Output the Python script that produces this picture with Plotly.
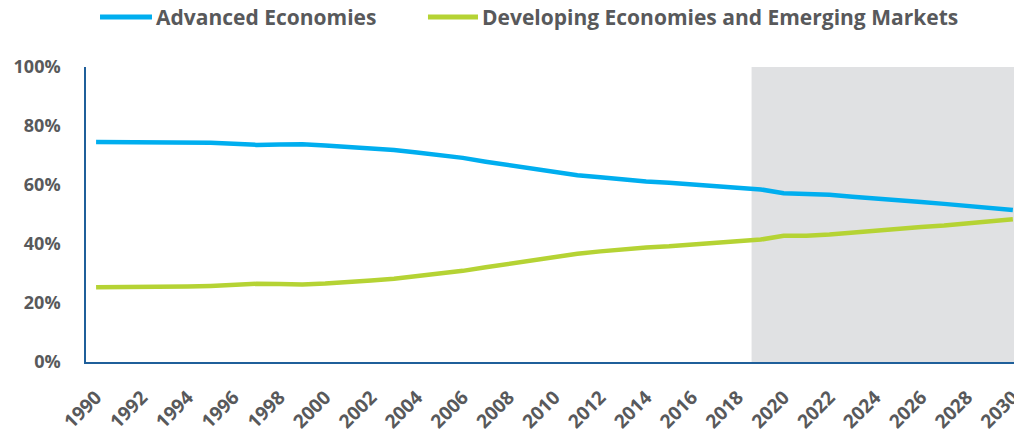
import plotly.graph_objects as go

years = list(range(1990, 2031))
advanced = [74.6, 74.6, 74.6, 74.4, 74.4, 74.3, 74.0, 73.6, 73.7, 73.8,
            73.4, 73.0, 72.5, 71.9, 71.0, 70.1, 69.2, 67.9, 66.7, 65.4,
            64.3, 63.3, 62.6, 61.8, 61.2, 60.8, 60.3, 59.7, 59.1, 58.5,
            57.2, 57.1, 56.7, 56.0, 55.3, 54.8, 54.2, 53.6, 53.0, 52.3, 51.5]
developing = [25.3, 25.3, 25.3, 25.6, 25.6, 25.8, 26.2, 26.5, 26.4, 26.3,
              26.6, 27.0, 27.6, 28.2, 29.0, 29.9, 30.9, 32.1, 33.3, 34.6,
              35.7, 36.7, 37.5, 38.3, 38.8, 39.2, 39.8, 40.3, 40.9, 41.5,
              42.8, 42.8, 43.2, 43.9, 44.6, 45.1, 45.8, 46.3, 46.9, 47.6, 48.4]
series_names = ["Advanced Economies", "Developing Economies and Emerging Markets"]
series_colors = ["#00AEEF", "#B5D334"]
projection_start = 2018.6
y_ticks = [0, 20, 40, 60, 80, 100]
y_tick_labels = [f"{v}%" for v in y_ticks]
x_ticks = list(range(1990, 2031, 2))
x_tick_labels = [str(v) for v in x_ticks]

FONT = "Open Sans"
GRAY = "#58595B"

fig = go.Figure()
for vals, name, color in zip([advanced, developing], series_names, series_colors):
    fig.add_trace(go.Scatter(x=years, y=vals, mode="lines", name=name,
                             line=dict(color=color, width=4.5), showlegend=False))

fig.add_shape(type="rect", xref="x", yref="paper", x0=projection_start, x1=2030.05,
              y0=0, y1=1, fillcolor="#E0E1E3", line=dict(width=0), layer="below")

# Manual legend (line swatches + labels) above the plot
legend_y = 1.1695
legend_swatches = [(0.0151, 0.0711, 0.0730), (0.3685, 0.4224, 0.4250)]
for (sx0, sx1, tx), name, color in zip(legend_swatches, series_names, series_colors):
    fig.add_shape(type="line", xref="paper", yref="paper", x0=sx0, x1=sx1,
                  y0=legend_y, y1=legend_y, line=dict(color=color, width=5))
    fig.add_annotation(xref="paper", yref="paper", x=tx, y=legend_y, text=name,
                       showarrow=False, xanchor="left", yanchor="middle",
                       font=dict(size=21, color=GRAY, family=FONT, weight="bold"))

fig.update_layout(
    width=1014, height=436,
    margin=dict(l=86, r=0, t=67, b=74),
    plot_bgcolor="white", paper_bgcolor="white",
    font=dict(family=FONT, color=GRAY, size=18, weight="bold"),
    showlegend=False,
    xaxis=dict(range=[1989.56, 2030.05], tickvals=x_ticks, ticktext=x_tick_labels,
               tickangle=-45, showgrid=False, zeroline=False,
               showline=True, linecolor="#1F5F9A", linewidth=1.5,
               ticks="", automargin=False, ticklabelstandoff=15,
               ticklabeloverflow="allow",
               tickfont=dict(size=19, color=GRAY, family=FONT, weight="bold")),
    yaxis=dict(range=[0, 100], tickvals=y_ticks, ticktext=y_tick_labels,
               showgrid=False, zeroline=False,
               showline=True, linecolor="#1F5F9A", linewidth=1.5,
               ticks="", ticklabelstandoff=20, automargin=False,
               tickfont=dict(size=18, color=GRAY, family=FONT, weight="bold")),
)

fig.write_html("out.html")
